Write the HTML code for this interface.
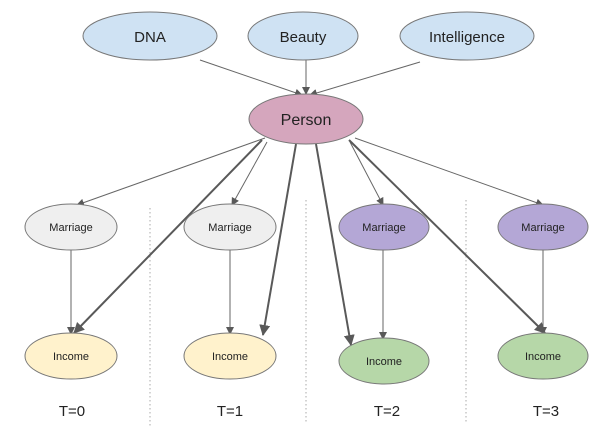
<!DOCTYPE html>
<html><head><style>body{margin:0;background:#fff}</style></head><body>
<svg width="600" height="438" viewBox="0 0 600 438" xmlns="http://www.w3.org/2000/svg" font-family="Liberation Sans, sans-serif">
<defs>
<marker id="a" markerWidth="8" markerHeight="8" refX="7" refY="4" orient="auto" markerUnits="userSpaceOnUse"><path d="M0,0 L8,4 L0,8 z" fill="#595959"/></marker>
<marker id="b" markerWidth="11" markerHeight="11" refX="10" refY="5.5" orient="auto" markerUnits="userSpaceOnUse"><path d="M0,0 L11,5.5 L0,11 z" fill="#595959"/></marker>
</defs>
<g stroke="#aaa" stroke-dasharray="1.5,2.5" stroke-width="1">
<line x1="150" y1="208" x2="150" y2="428"/><line x1="306" y1="200" x2="306" y2="422"/><line x1="466" y1="200" x2="466" y2="422"/>
</g>
<g stroke="#666" stroke-width="1" fill="none" marker-end="url(#a)">
<line x1="200" y1="60" x2="302" y2="95"/>
<line x1="306" y1="60" x2="306" y2="94"/>
<line x1="420" y1="62" x2="310" y2="95"/>
<line x1="265" y1="138" x2="77" y2="205"/>
<line x1="267" y1="142" x2="232" y2="205"/>
<line x1="350" y1="142" x2="383" y2="205"/>
<line x1="355" y1="138" x2="543" y2="205"/>
<line x1="71" y1="249" x2="71" y2="334"/>
<line x1="230" y1="249" x2="230" y2="334"/>
<line x1="383" y1="249" x2="383" y2="339"/>
<line x1="543" y1="249" x2="543" y2="334"/>
</g>
<g stroke="#595959" stroke-width="2" fill="none" marker-end="url(#b)">
<line x1="262" y1="140" x2="74" y2="333"/>
<line x1="296" y1="144" x2="263" y2="335"/>
<line x1="316" y1="144" x2="351" y2="345"/>
<line x1="349" y1="140" x2="545" y2="333"/>
</g>
<g stroke="#777" stroke-width="1">
<ellipse cx="150" cy="36" rx="67" ry="24" fill="#cfe2f3"/>
<ellipse cx="303" cy="36" rx="55" ry="24" fill="#cfe2f3"/>
<ellipse cx="467" cy="36" rx="67" ry="24" fill="#cfe2f3"/>
<ellipse cx="306" cy="119" rx="57" ry="25" fill="#d5a6bd"/>
<ellipse cx="71" cy="227" rx="46" ry="23" fill="#efefef"/>
<ellipse cx="230" cy="227" rx="46" ry="23" fill="#efefef"/>
<ellipse cx="384" cy="227" rx="45" ry="23" fill="#b4a7d6"/>
<ellipse cx="543" cy="227" rx="45" ry="23" fill="#b4a7d6"/>
<ellipse cx="71" cy="356" rx="46" ry="23" fill="#fff2cc"/>
<ellipse cx="230" cy="356" rx="46" ry="23" fill="#fff2cc"/>
<ellipse cx="384" cy="361" rx="45" ry="23" fill="#b6d7a8"/>
<ellipse cx="543" cy="356" rx="45" ry="23" fill="#b6d7a8"/>
</g>
<g fill="#222" text-anchor="middle">
<text x="150" y="42" font-size="15">DNA</text>
<text x="303" y="42" font-size="15">Beauty</text>
<text x="467" y="42" font-size="15">Intelligence</text>
<text x="306" y="125" font-size="16">Person</text>
<g font-size="11">
<text x="71" y="231">Marriage</text><text x="230" y="231">Marriage</text><text x="384" y="231">Marriage</text><text x="543" y="231">Marriage</text>
<text x="71" y="360">Income</text><text x="230" y="360">Income</text><text x="384" y="365">Income</text><text x="543" y="360">Income</text>
</g>
<g font-size="15">
<text x="72" y="416">T=0</text><text x="230" y="416">T=1</text><text x="387" y="416">T=2</text><text x="546" y="416">T=3</text>
</g>
</g>
</svg>
</body></html>
